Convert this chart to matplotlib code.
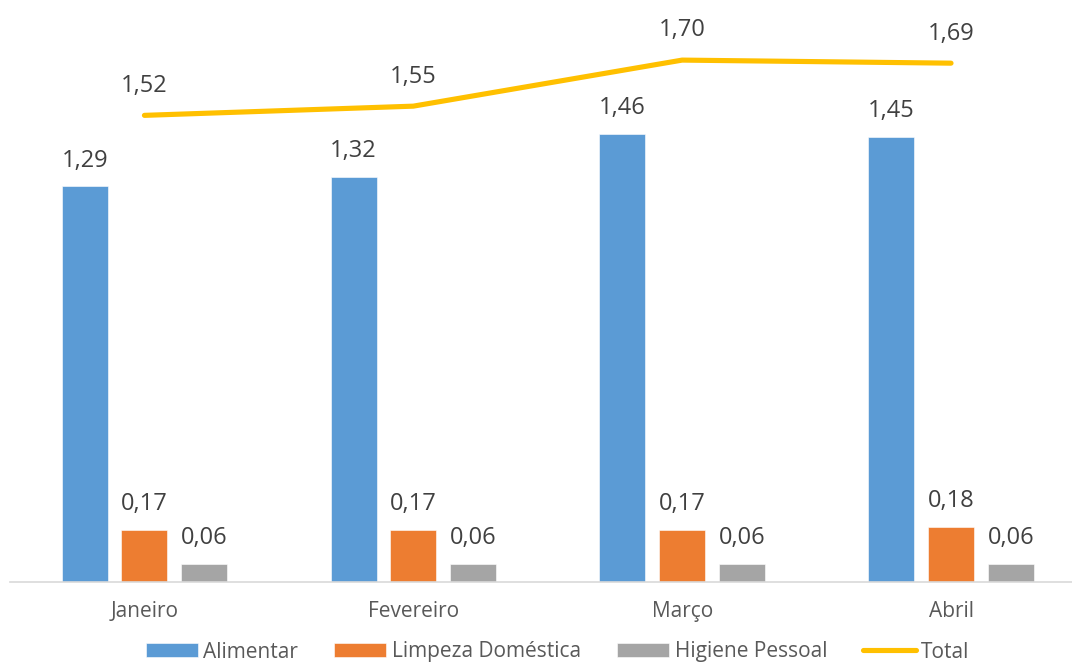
import matplotlib
matplotlib.use("Agg")
import matplotlib.pyplot as plt
import numpy as np

months = ["Janeiro", "Fevereiro", "Março", "Abril"]
alimentar = [1.29, 1.32, 1.46, 1.45]
limpeza = [0.17, 0.17, 0.17, 0.18]
higiene = [0.06, 0.06, 0.06, 0.06]
total = [1.52, 1.55, 1.70, 1.69]
series_names = ["Alimentar", "Limpeza Doméstica", "Higiene Pessoal", "Total"]

colors = ["#5B9BD5", "#ED7D31", "#A5A5A5", "#FFC000"]

plt.rcParams['font.family'] = ['Open Sans', 'DejaVu Sans']

W, H = 1072, 663
fig = plt.figure(figsize=(W/100, H/100), dpi=100)
base_px = 582
ax = fig.add_axes([10/W, 1 - base_px/H, (W-10)/W, base_px/H])
ax.set_ylim(0, base_px/307)
ax.set_xlim(-0.5, (W - 145)/268.7)

x = np.arange(len(months))
off = 0.222
bw = 0.171
b1 = ax.bar(x - off, alimentar, bw, color=colors[0], label=series_names[0], edgecolor='white', linewidth=0.4)
b2 = ax.bar(x, limpeza, bw, color=colors[1], label=series_names[1], edgecolor='white', linewidth=0.4)
b3 = ax.bar(x + off, higiene, bw, color=colors[2], label=series_names[2], edgecolor='white', linewidth=0.4)
ln, = ax.plot(x, total, color=colors[3], lw=3.7, solid_capstyle='round', label=series_names[3], zorder=3)

lab_col = "#404040"
fs = 17
def fmt(v):
    return f"{v:.2f}".replace(".", ",")

for xs, vals in [(x - off, alimentar), (x, limpeza), (x + off, higiene)]:
    for xi, v in zip(xs, vals):
        ax.annotate(fmt(v), (xi, v), xytext=(0, 14), textcoords='offset points',
                    ha='center', va='baseline', fontsize=fs, color=lab_col)
for xi, v in zip(x, total):
    ax.annotate(fmt(v), (xi, v), xytext=(0, 17), textcoords='offset points',
                ha='center', va='baseline', fontsize=fs, color=lab_col)

for s in ['top', 'right', 'left']:
    ax.spines[s].set_visible(False)
ax.spines['bottom'].set_color('#D9D9D9')
ax.spines['bottom'].set_linewidth(1.2)
ax.set_yticks([])
ax.set_xticks(x)
ax.set_xticklabels(months, fontsize=15, color='#595959')
ax.tick_params(axis='x', length=0, pad=14)

fig.legend(handles=[b1, b2, b3, ln], labels=series_names, loc='center',
           bbox_to_anchor=(0.52, 1 - 652/H), ncol=4, frameon=False,
           fontsize=15, labelcolor='#595959', handlelength=2.5, handleheight=0.65,
           handletextpad=0.25, columnspacing=1.75, borderaxespad=0)

fig.savefig("out.png", dpi=100)
